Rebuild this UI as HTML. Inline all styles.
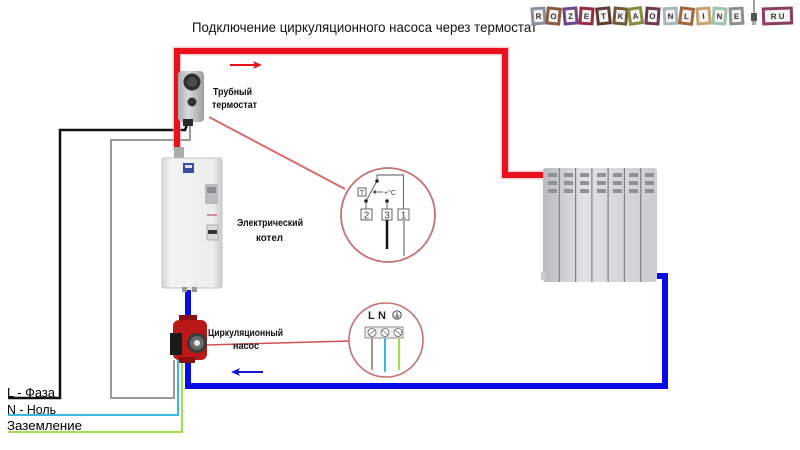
<!DOCTYPE html>
<html><head><meta charset="utf-8"><style>
html,body{margin:0;padding:0;background:#fff;}
svg{display:block;}
text{font-family:"Liberation Sans","DejaVu Sans",sans-serif;}
</style></head><body>
<svg width="800" height="450" viewBox="0 0 800 450" xmlns="http://www.w3.org/2000/svg">
<defs>
<linearGradient id="rad" x1="0" x2="1" y1="0" y2="0">
<stop offset="0" stop-color="#b8bcbf"/><stop offset="0.35" stop-color="#dfe2e4"/><stop offset="1" stop-color="#c9cdd0"/>
</linearGradient>
<linearGradient id="boil" x1="0" x2="1" y1="0" y2="0">
<stop offset="0" stop-color="#d4d8d8"/><stop offset="0.15" stop-color="#f2f4f3"/><stop offset="0.85" stop-color="#eceeed"/><stop offset="1" stop-color="#c8cccc"/>
</linearGradient>
<linearGradient id="therm" x1="0" x2="1" y1="0" y2="0">
<stop offset="0" stop-color="#a9abac"/><stop offset="0.4" stop-color="#d9dadb"/><stop offset="1" stop-color="#9c9ea0"/>
</linearGradient>
</defs>

<!-- Title -->
<text x="192" y="32" font-size="14" textLength="345" lengthAdjust="spacingAndGlyphs" fill="#111">Подключение циркуляционного насоса через термостат</text>

<!-- Logo -->
<g font-size="8" font-weight="bold" fill="#333" text-anchor="middle">
<g transform="rotate(-4 538 16)"><rect x="531" y="7" width="15" height="18" fill="#8a90a2"/><rect x="534" y="10" width="9" height="12" fill="#f4f4f4"/><text x="538.5" y="19">R</text></g>
<g transform="rotate(6 553 16)"><rect x="546" y="7" width="15" height="18" fill="#8c5a3c"/><rect x="549" y="10" width="9" height="12" fill="#f4f4f4"/><text x="553.5" y="19">O</text></g>
<g transform="rotate(-5 570 16)"><rect x="563" y="7" width="15" height="18" fill="#6a4a88"/><rect x="566" y="10" width="9" height="12" fill="#f4f4f4"/><text x="570.5" y="19">Z</text></g>
<g transform="rotate(4 586 16)"><rect x="579" y="7" width="15" height="18" fill="#9b2a48"/><rect x="582" y="10" width="9" height="12" fill="#f4f4f4"/><text x="586.5" y="19">E</text></g>
<g transform="rotate(-6 603 16)"><rect x="596" y="7" width="15" height="18" fill="#5c3c2c"/><rect x="599" y="10" width="9" height="12" fill="#f4f4f4"/><text x="603.5" y="19">T</text></g>
<g transform="rotate(5 620 16)"><rect x="613" y="7" width="15" height="18" fill="#6e5a3a"/><rect x="616" y="10" width="9" height="12" fill="#f4f4f4"/><text x="620.5" y="19">K</text></g>
<g transform="rotate(-8 635 16)"><rect x="628" y="7" width="15" height="18" fill="#8a8a3c"/><rect x="631" y="10" width="9" height="12" fill="#f4f4f4"/><text x="635.5" y="19">A</text></g>
<g transform="rotate(4 652 16)"><rect x="645" y="7" width="15" height="18" fill="#6c3a4c"/><rect x="648" y="10" width="9" height="12" fill="#f4f4f4"/><text x="652.5" y="19">O</text></g>
<g transform="rotate(-3 670 16)"><rect x="663" y="7" width="15" height="18" fill="#a8b8b8"/><rect x="666" y="10" width="9" height="12" fill="#f4f4f4"/><text x="670.5" y="19">N</text></g>
<g transform="rotate(7 686 16)"><rect x="679" y="7" width="15" height="18" fill="#a4643c"/><rect x="682" y="10" width="9" height="12" fill="#f4f4f4"/><text x="686.5" y="19">L</text></g>
<g transform="rotate(-4 703 16)"><rect x="696" y="7" width="15" height="18" fill="#c4a472"/><rect x="699" y="10" width="9" height="12" fill="#f4f4f4"/><text x="703.5" y="19">I</text></g>
<g transform="rotate(5 719 16)"><rect x="712" y="7" width="15" height="18" fill="#a2c2b0"/><rect x="715" y="10" width="9" height="12" fill="#f4f4f4"/><text x="719.5" y="19">N</text></g>
<g transform="rotate(-3 736 16)"><rect x="729" y="7" width="15" height="18" fill="#8e9090"/><rect x="732" y="10" width="9" height="12" fill="#f4f4f4"/><text x="736.5" y="19">E</text></g>
<line x1="754" y1="0" x2="754" y2="14" stroke="#444" stroke-width="1"/>
<rect x="751" y="13" width="6" height="8" fill="#555"/>
<line x1="753" y1="21" x2="753" y2="25" stroke="#555"/><line x1="755" y1="21" x2="755" y2="25" stroke="#555"/>
<g transform="rotate(-2 777 16)"><rect x="762" y="7" width="31" height="18" fill="#8c3c5c"/><rect x="765" y="10" width="25" height="12" fill="#f4f4f4"/><text x="777.5" y="19">R U</text></g>
</g>

<!-- Left wires -->
<polyline points="8,398 60,398 60,130 185,130 188,122" fill="none" stroke="#111" stroke-width="2.5"/>
<polyline points="190,126 190,140 111,140 111,398 174,398 174,360" fill="none" stroke="#9a9a9a" stroke-width="2"/>
<polyline points="8,415 178,415 178,358" fill="none" stroke="#3cb8e0" stroke-width="2"/>
<polyline points="8,432 182,432 182,358" fill="none" stroke="#9ee050" stroke-width="2"/>

<!-- Red pipe -->
<polyline points="177,150 177,51 505,51 505,175 544,175" fill="none" stroke="#f4a0a0" stroke-width="9" opacity="0.5"/>
<polyline points="177,150 177,51 505,51 505,175 544,175" fill="none" stroke="#e8101c" stroke-width="6"/>

<!-- Blue pipe -->
<polyline points="188,290 188,386 665,386 665,276 655,276" fill="none" stroke="#0a0ae4" stroke-width="6"/>

<!-- Arrows -->
<line x1="230" y1="65" x2="258" y2="65" stroke="#e8101c" stroke-width="2"/>
<polygon points="262,65 253,61 255,65 253,69" fill="#e8101c"/>
<line x1="235" y1="372" x2="263" y2="372" stroke="#1818cc" stroke-width="2"/>
<polygon points="231,372 240,368 238,372 240,376" fill="#1818cc"/>

<!-- Thermostat -->
<rect x="178" y="71" width="26" height="51" rx="4" fill="url(#therm)"/>
<circle cx="192" cy="82" r="8.5" fill="#2e2e2e"/>
<circle cx="192" cy="82" r="5" fill="#4a4a4a"/>
<circle cx="192" cy="102" r="4.5" fill="#333"/>
<rect x="183" y="119" width="10" height="7" fill="#2a2a2a"/>

<!-- Boiler -->
<rect x="174" y="147" width="10" height="14" fill="#a8acac"/>
<rect x="162" y="158" width="60" height="130" rx="2" fill="url(#boil)" stroke="#c2c6c6" stroke-width="1"/>
<rect x="183" y="163" width="11" height="10" fill="#3a4aa0"/>
<rect x="185" y="165" width="7" height="3" fill="#e0e0f0"/>
<rect x="205" y="184" width="13" height="20" fill="#b8bcbc"/>
<rect x="207" y="187" width="9" height="6" fill="#888c8c"/>
<rect x="207" y="214" width="10" height="2" fill="#d090a8"/>
<rect x="207" y="225" width="11" height="15" fill="#d8dada" stroke="#999" stroke-width="0.7"/>
<rect x="208" y="230" width="9" height="4" fill="#333"/>
<rect x="182" y="287" width="5" height="5" fill="#999"/>
<rect x="192" y="287" width="5" height="5" fill="#999"/>

<!-- Pump -->
<rect x="179" y="315" width="18" height="6" fill="#8a1010"/>
<rect x="173" y="320" width="34" height="40" rx="6" fill="#b81818"/>
<rect x="179" y="357" width="16" height="6" fill="#8a1010"/>
<rect x="170" y="333" width="12" height="22" fill="#1a1a1a"/>
<circle cx="197" cy="343" r="10" fill="#3a3a3a"/>
<circle cx="197" cy="343" r="7" fill="#6a6a6a"/>
<circle cx="197" cy="343" r="3" fill="#e8e8e8"/>

<!-- Radiator -->
<g>
<rect x="543" y="168" width="114" height="114" rx="3" fill="url(#rad)"/>
<g stroke="#7e8285" stroke-width="1.2">
<line x1="559.3" y1="168" x2="559.3" y2="282"/>
<line x1="575.6" y1="168" x2="575.6" y2="282"/>
<line x1="591.9" y1="168" x2="591.9" y2="282"/>
<line x1="608.1" y1="168" x2="608.1" y2="282"/>
<line x1="624.4" y1="168" x2="624.4" y2="282"/>
<line x1="640.7" y1="168" x2="640.7" y2="282"/>
</g>
<g fill="#8e9296">
<rect x="548" y="173" width="9" height="4"/><rect x="564" y="173" width="9" height="4"/><rect x="580" y="173" width="9" height="4"/><rect x="597" y="173" width="9" height="4"/><rect x="613" y="173" width="9" height="4"/><rect x="629" y="173" width="9" height="4"/><rect x="645" y="173" width="9" height="4"/>
<rect x="548" y="181" width="9" height="4"/><rect x="564" y="181" width="9" height="4"/><rect x="580" y="181" width="9" height="4"/><rect x="597" y="181" width="9" height="4"/><rect x="613" y="181" width="9" height="4"/><rect x="629" y="181" width="9" height="4"/><rect x="645" y="181" width="9" height="4"/>
<rect x="548" y="189" width="9" height="4"/><rect x="564" y="189" width="9" height="4"/><rect x="580" y="189" width="9" height="4"/><rect x="597" y="189" width="9" height="4"/><rect x="613" y="189" width="9" height="4"/><rect x="629" y="189" width="9" height="4"/><rect x="645" y="189" width="9" height="4"/>
</g>
<rect x="541" y="272" width="5" height="8" fill="#c8cacc"/>
</g>

<!-- Connector lines -->
<line x1="209" y1="117" x2="345" y2="189" stroke="#d86a6a" stroke-width="2"/>
<line x1="207" y1="345" x2="350" y2="341" stroke="#d05050" stroke-width="1.5"/>

<!-- Circle 1: thermostat wiring -->
<circle cx="388" cy="215" r="47" fill="#fff" stroke="#c87070" stroke-width="1.8"/>
<g stroke="#555" stroke-width="0.9" fill="none">
<rect x="361" y="209" width="11" height="11" fill="#fff"/>
<rect x="382" y="209" width="10" height="11" fill="#fff"/>
<rect x="398" y="209" width="11" height="11" fill="#fff"/>
<polyline points="403.5,209 403.5,175 377,175 377,181"/>
<line x1="377" y1="181" x2="366" y2="201"/>
<line x1="366" y1="201" x2="366" y2="209"/>
<line x1="387" y1="201" x2="387" y2="209"/>
<rect x="358" y="188" width="8" height="8" fill="#fff"/>
<line x1="373" y1="192" x2="383" y2="192"/>
</g>
<polygon points="372,192 376,190 376,194" fill="#555"/>
<circle cx="377" cy="181" r="1.8" fill="#222"/>
<circle cx="366" cy="201" r="1.8" fill="#222"/>
<circle cx="387" cy="201" r="1.8" fill="#222"/>
<g font-size="10" fill="#444" text-anchor="middle">
<text x="366.5" y="218.5">2</text><text x="387" y="218.5">3</text><text x="403.5" y="218.5">1</text>
<text x="362" y="195" font-size="7">T</text>
</g>
<text x="384" y="195" font-size="7" fill="#444">+°C</text>
<line x1="387" y1="220" x2="387" y2="249" stroke="#111" stroke-width="2.5"/>
<line x1="404" y1="220" x2="404" y2="256" stroke="#aaa" stroke-width="2"/>

<!-- Circle 2: pump wiring -->
<circle cx="386" cy="340" r="37" fill="#fff" stroke="#c87070" stroke-width="1.6"/>
<text x="368" y="319" font-size="11" font-weight="bold" fill="#222">L</text>
<text x="378" y="319" font-size="11" font-weight="bold" fill="#222">N</text>
<circle cx="397" cy="315" r="4.2" fill="none" stroke="#333" stroke-width="0.9"/>
<line x1="397" y1="312" x2="397" y2="316" stroke="#333" stroke-width="0.8"/>
<line x1="394.5" y1="316" x2="399.5" y2="316" stroke="#333" stroke-width="0.8"/>
<line x1="395.5" y1="317.5" x2="398.5" y2="317.5" stroke="#333" stroke-width="0.8"/>
<rect x="365" y="327" width="38" height="11" fill="#eee" stroke="#777" stroke-width="0.8"/>
<g fill="#fff" stroke="#666" stroke-width="0.8">
<circle cx="372" cy="332.5" r="4"/><circle cx="385" cy="332.5" r="4"/><circle cx="398" cy="332.5" r="4"/>
</g>
<g stroke="#666" stroke-width="0.8">
<line x1="369" y1="335" x2="375" y2="330"/><line x1="382" y1="330" x2="388" y2="335"/><line x1="395" y1="330" x2="401" y2="335"/>
</g>
<line x1="372" y1="338" x2="372" y2="370" stroke="#9a9a9a" stroke-width="2"/>
<line x1="385" y1="338" x2="385" y2="372" stroke="#3cb8e0" stroke-width="2"/>
<line x1="399" y1="338" x2="399" y2="370" stroke="#9ee050" stroke-width="2"/>

<!-- Labels -->
<g fill="#111" font-weight="bold">
<text x="213" y="95" font-size="10" textLength="39" lengthAdjust="spacingAndGlyphs">Трубный</text>
<text x="212" y="108" font-size="10" textLength="45" lengthAdjust="spacingAndGlyphs">термостат</text>
<text x="237" y="226" font-size="10" textLength="66" lengthAdjust="spacingAndGlyphs">Электрический</text>
<text x="256" y="241" font-size="10" textLength="27" lengthAdjust="spacingAndGlyphs">котел</text>
<text x="208" y="336" font-size="10" textLength="75" lengthAdjust="spacingAndGlyphs">Циркуляционный</text>
<text x="233" y="349" font-size="10" textLength="26" lengthAdjust="spacingAndGlyphs">насос</text>
</g>
<g fill="#000">
<text x="7" y="397" font-size="13" textLength="48" lengthAdjust="spacingAndGlyphs">L - Фаза</text>
<text x="7" y="414" font-size="13" textLength="49" lengthAdjust="spacingAndGlyphs">N - Ноль</text>
<text x="7" y="430" font-size="13" textLength="75" lengthAdjust="spacingAndGlyphs">Заземление</text>
</g>
</svg>
</body></html>
